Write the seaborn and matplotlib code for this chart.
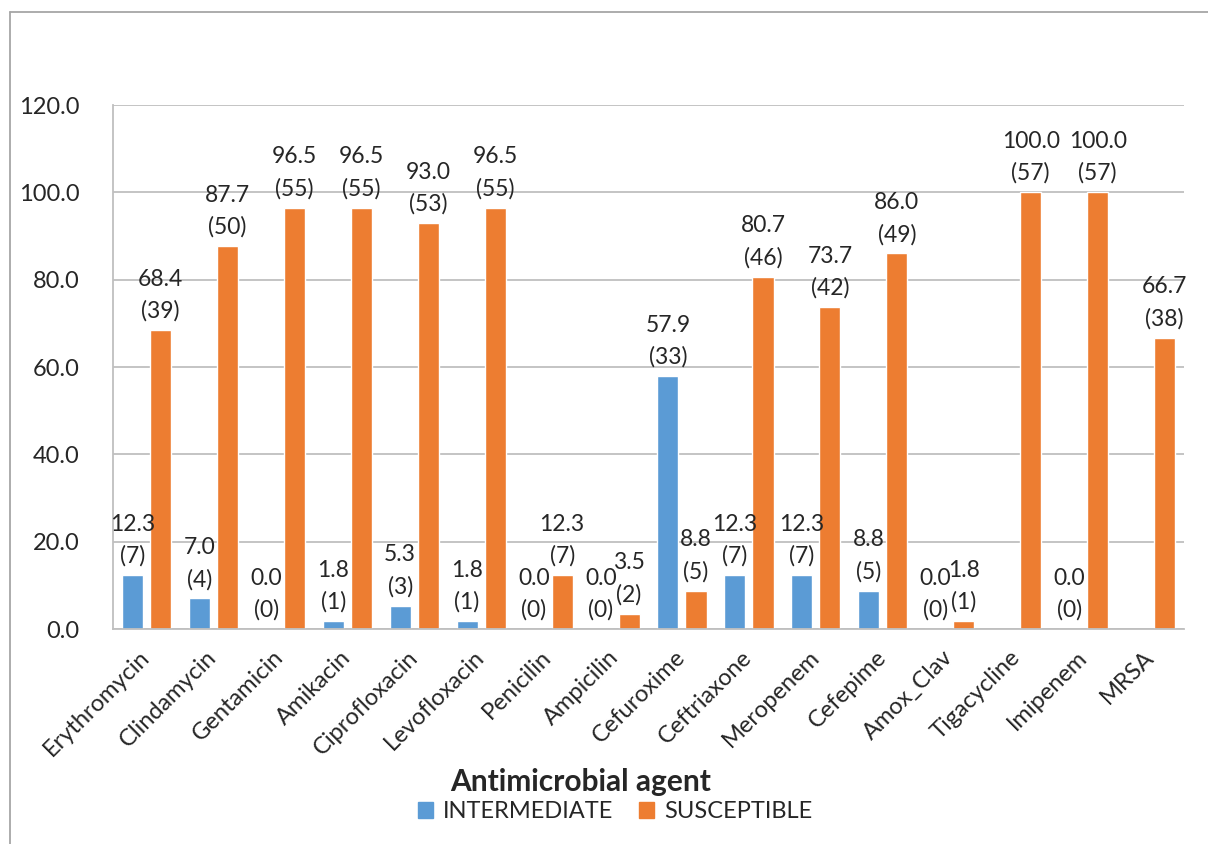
import numpy as np
import pandas as pd
import seaborn as sns
import matplotlib.pyplot as plt
from matplotlib.lines import Line2D

agentes = ['Erythromycin', 'Clindamycin', 'Gentamicin', 'Amikacin', 'Ciprofloxacin',
           'Levofloxacin', 'Penicilin', 'Ampicilin', 'Cefuroxime', 'Ceftriaxone',
           'Meropenem', 'Cefepime', 'Amox_Clav', 'Tigacycline', 'Imipenem', 'MRSA']
inter_pct = [12.3, 7.0, 0.0, 1.8, 5.3, 1.8, 0.0, 0.0, 57.9, 12.3, 12.3, 8.8, 0.0, np.nan, 0.0, np.nan]
inter_n = [7, 4, 0, 1, 3, 1, 0, 0, 33, 7, 7, 5, 0, np.nan, 0, np.nan]
susc_pct = [68.4, 87.7, 96.5, 96.5, 93.0, 96.5, 12.3, 3.5, 8.8, 80.7, 73.7, 86.0, 1.8, 100.0, 100.0, 66.7]
susc_n = [39, 50, 55, 55, 53, 55, 7, 2, 5, 46, 42, 49, 1, 57, 57, 38]
y_ticks = [0, 20, 40, 60, 80, 100, 120]

dados = pd.concat([
    pd.DataFrame({'agente': agentes, 'pct': inter_pct, 'n': inter_n, 'status': 'INTERMEDIATE'}),
    pd.DataFrame({'agente': agentes, 'pct': susc_pct, 'n': susc_n, 'status': 'SUSCEPTIBLE'}),
], ignore_index=True)

sns.set_style('white')
plt.rcParams['font.family'] = ['Lato', 'DejaVu Sans']
cinza = '#BFBFBF'

fig = plt.figure(figsize=(12.08, 8.44), dpi=100)
ax = fig.add_axes([113 / 1208, 1 - 629 / 844, (1184 - 113) / 1208, (629 - 105) / 844])

cores = {'INTERMEDIATE': '#5B9BD5', 'SUSCEPTIBLE': '#ED7D31'}
sns.barplot(data=dados, x='agente', y='pct', hue='status', order=agentes,
            palette=cores, saturation=1, width=0.84, gap=0.25, ax=ax, legend=False)

# rotulos de dados: valor e contagem
for cont, status in zip(ax.containers, ['INTERMEDIATE', 'SUSCEPTIBLE']):
    sub = dados[(dados['status'] == status) & dados['pct'].notna()]
    rotulos = [f"{p:.1f}\n({int(n)})" for p, n in zip(sub['pct'], sub['n'])]
    ax.bar_label(cont, labels=rotulos, padding=6, fontsize=16.5, linespacing=1.6)

ax.set_ylim(0, 120)
ax.set_yticks(y_ticks)
ax.set_yticklabels([f"{v:.1f}" for v in y_ticks], fontsize=17)
ax.set_xlim(-0.5, len(agentes) - 0.5)
ax.set_xticks(range(len(agentes)))
ax.set_xticklabels(agentes, rotation=45, ha='right', va='center',
                   rotation_mode='anchor', fontsize=17)
ax.tick_params(axis='both', length=0)
ax.tick_params(axis='y', pad=24)
ax.tick_params(axis='x', pad=18)
ax.yaxis.grid(True, color=cinza, linewidth=1.3)
ax.set_axisbelow(True)
for lado in ['top', 'right']:
    ax.spines[lado].set_visible(False)
for lado in ['left', 'bottom']:
    ax.spines[lado].set_color(cinza)
    ax.spines[lado].set_linewidth(1.3)

ax.set_ylabel('')
ax.set_xlabel('Antimicrobial agent', fontsize=21.5, fontweight='bold')
ax.xaxis.set_label_coords((581 - 113) / 1071, (629 - 768) / 524)

handles = [plt.Rectangle((0, 0), 1, 1, color=cores[k]) for k in cores]
fig.legend(handles, list(cores), loc='center', bbox_to_anchor=(615 / 1208, 1 - 812 / 844),
           ncol=2, frameon=False, fontsize=17, handlelength=0.65, handleheight=0.65,
           handletextpad=0.4, columnspacing=1.1)

# borda da area do grafico
fig.add_artist(Line2D([10 / 1208, 1], [1 - 12 / 844, 1 - 12 / 844], color='#A6A6A6', lw=1.3))
fig.add_artist(Line2D([10 / 1208, 10 / 1208], [0, 1 - 12 / 844], color='#A6A6A6', lw=1.3))

fig.savefig('out.png', dpi=100)
